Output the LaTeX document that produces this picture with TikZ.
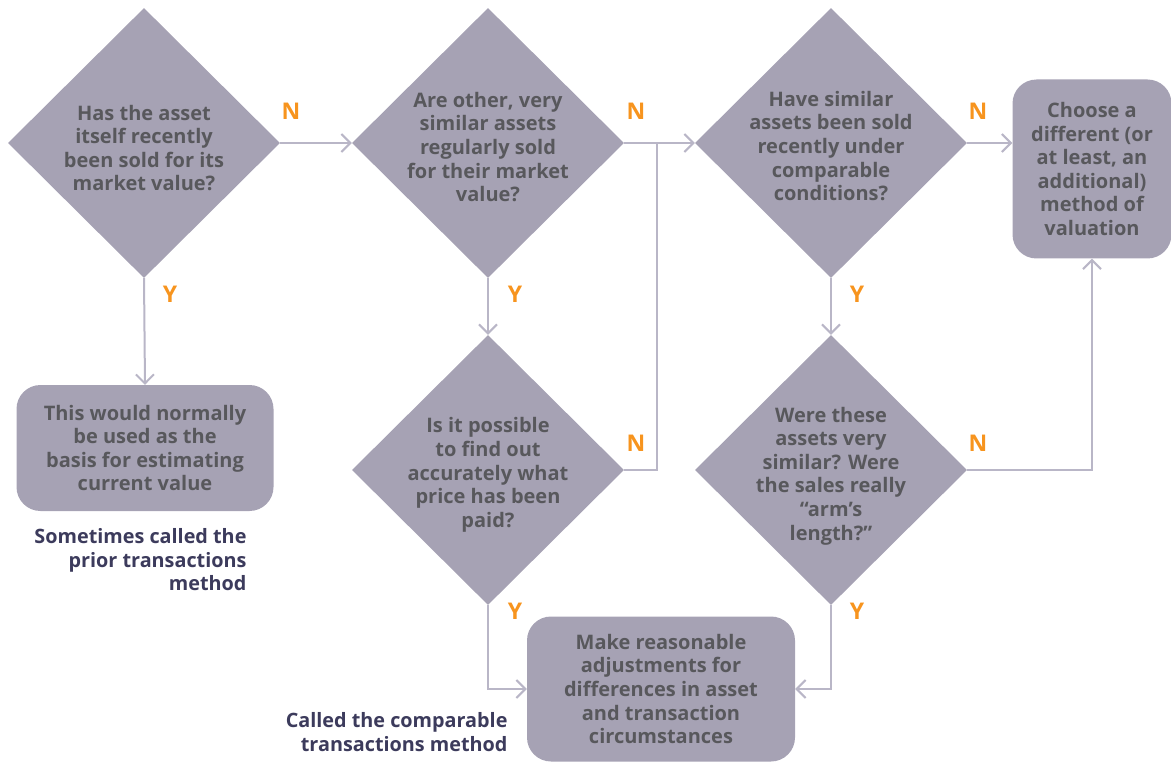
\documentclass[tikz,border=0pt]{standalone}
\usepackage{fontspec}
\setmainfont{Open Sans}
\usetikzlibrary{shapes.geometric,arrows.meta}
\definecolor{shapefill}{HTML}{A6A2B4}
\definecolor{shapetext}{HTML}{58585C}
\definecolor{linecol}{HTML}{B9B6C7}
\definecolor{yn}{HTML}{F7941E}
\definecolor{navy}{HTML}{3C3B5C}
\begin{document}
\begin{tikzpicture}[x=1pt,y=-1pt,
  dec/.style={diamond,fill=shapefill,inner sep=0pt,minimum width=272pt,minimum height=270pt},
  dtext/.style={text=shapetext,font=\fontsize{20}{23.6}\selectfont\bfseries,align=center,inner sep=0pt},
  rbox/.style={rectangle,rounded corners=24pt,fill=shapefill,inner sep=0pt,text=shapetext,font=\fontsize{20}{23.6}\selectfont\bfseries,align=center},
  conn/.style={draw=linecol,line width=2pt,-{Straight Barb[length=9pt,width=18pt,line width=2pt]}},
  plain/.style={draw=linecol,line width=2pt},
  yn/.style={text=yn,font=\fontsize{23}{24}\selectfont\bfseries},
  side/.style={text=navy,font=\fontsize{19.8}{23.6}\selectfont\bfseries,align=right}]
\useasboundingbox (0,0) rectangle (1171,762);
\node[dec] (d1) at (144,143) {};
\node[dec] (d2) at (488,143) {};
\node[dec] (d3) at (831,143) {};
\node[dec] (d4) at (488,470) {};
\node[dec] (d5) at (831,470) {};
\node[dtext] (t1) at ([yshift=-5pt]d1.center) {Has the asset\\itself recently\\been sold for its\\market value?};
\node[dtext] (t2) at ([yshift=-4pt]d2.center) {Are other, very\\similar assets\\regularly sold\\for their market\\value?};
\node[dtext] (t3) at ([yshift=-3pt]d3.center) {Have similar\\assets been sold\\recently under\\comparable\\conditions?};
\node[dtext] (t4) at ([yshift=-5pt]d4.center) {Is it possible\\to find out\\accurately what\\price has been\\paid?};
\node[dtext] (t5) at ([yshift=-6pt]d5.center) {Were these\\assets very\\similar? Were\\the sales really\\“arm’s\\length?”};
\node[rbox,minimum width=257pt,minimum height=126pt] (b1) at (145,448) {This would normally\\be used as the\\basis for estimating\\current value};
\node[rbox,minimum width=159pt,minimum height=179pt] (b2) at (1092,169) {Choose a\\different (or\\at least, an\\additional)\\method of\\valuation};
\node[rbox,minimum width=268pt,minimum height=145pt] (b3) at (661,689) {Make reasonable\\adjustments for\\differences in asset\\and transaction\\circumstances};
\node[side,anchor=north east] (s1) at (250,525) {Sometimes called the\\prior transactions\\method};
\node[side,anchor=north east] (s2) at (511,709) {Called the comparable\\transactions method};
\coordinate (j1) at (657,143);
\draw[conn] (d1.east) -- (d2.west);
\draw[conn] (d2.east) -- (d3.west);
\draw[plain] (d4.east) -- (d4.east -| j1) -- (j1);
\draw[conn] (d3.east) -- (b2.west |- d3.east);
\draw[conn] (d5.east) -- (d5.east -| b2.south) -- (b2.south);
\draw[conn] (d1.south) -- (b1.north);
\draw[conn] (d2.south) -- (d4.north);
\draw[conn] (d3.south) -- (d5.north);
\draw[conn] (d4.south) |- (b3.west);
\draw[conn] (d5.south) |- (b3.east);
\node[yn] (n1) at (291,111) {N};
\node[yn] (n2) at (636,111) {N};
\node[yn] (n3) at (978,111) {N};
\node[yn] (n4) at (636,443) {N};
\node[yn] (n5) at (978,443) {N};
\node[yn] (y1) at (170,294) {Y};
\node[yn] (y2) at (515,294) {Y};
\node[yn] (y3) at (857,294) {Y};
\node[yn] (y4) at (515,611) {Y};
\node[yn] (y5) at (857,611) {Y};
\end{tikzpicture}
\end{document}
